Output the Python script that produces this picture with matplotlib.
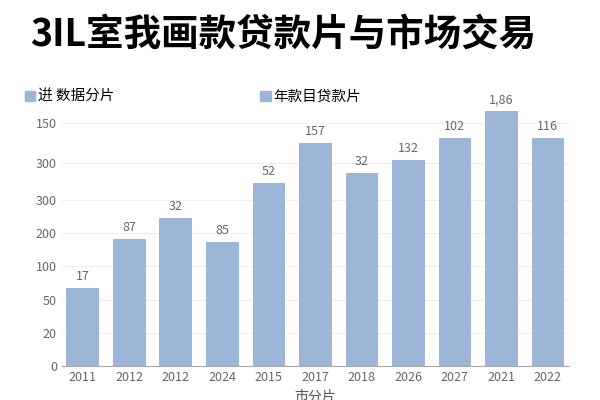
import matplotlib.pyplot as plt
from matplotlib.patches import Patch

plt.rcParams['font.family'] = ['Noto Sans CJK SC', 'DejaVu Sans']

years = ['2011', '2012', '2012', '2024', '2015', '2017', '2018', '2026', '2027', '2021', '2022']
# bar heights in axis units (one unit = one gridline step)
heights = [2.34, 3.81, 4.44, 3.72, 5.5, 6.7, 5.8, 6.19, 6.85, 7.66, 6.85]
bar_labels = ['17', '87', '32', '85', '52', '157', '32', '132', '102', '1,86', '116']
tick_pos = [0, 1, 2, 3, 4, 5, 6.1, 7.3]
tick_labels = ['0', '20', '50', '100', '200', '300', '300', '150']

color = '#9db5d9'
fig = plt.figure(figsize=(6, 4), dpi=100)
ax = fig.add_axes([0.103, 0.085, 0.845, 0.64])
x = range(len(years))
ax.bar(x, heights, width=0.7, color=color, zorder=2)
for xi, h, lab in zip(x, heights, bar_labels):
    ax.text(xi, h + 0.15, lab, ha='center', va='bottom', fontsize=9, color='#666666')

ax.set_xlim(-0.45, len(years) - 0.55)
ax.set_ylim(0, 7.7)
ax.set_yticks(tick_pos)
ax.set_yticklabels(tick_labels)
ax.set_xticks(list(x))
ax.set_xticklabels(years)
ax.tick_params(colors='#666666', labelsize=9, length=0)
ax.grid(axis='y', color='#eeeeee', zorder=0)
for s in ['top', 'right', 'left']:
    ax.spines[s].set_visible(False)
ax.spines['bottom'].set_color('#aaaaaa')
ax.set_xlabel('市分片', fontsize=10, color='#555555', labelpad=4)

fig.text(0.05, 0.915, '3IL室我画款贷款片与市场交易', fontsize=27, fontweight='bold', va='center')
fig.legend(handles=[Patch(color=color, label='逬 数据分片'), Patch(color=color, label='年款目贷款片')],
           loc='center left', bbox_to_anchor=(0.02, 0.757), ncol=2, frameon=False,
           fontsize=10.5, handlelength=0.7, handleheight=0.7, handletextpad=0.2, columnspacing=10)
fig.savefig('out.png')
